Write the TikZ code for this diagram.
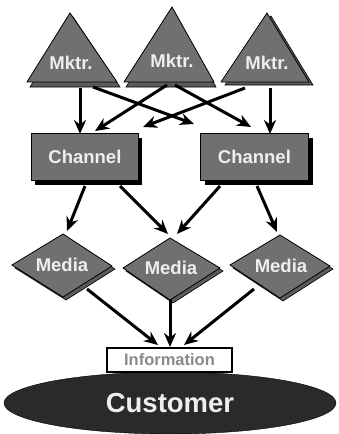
\documentclass[tikz,border=0pt]{standalone}
\usepackage{fontspec}
\setmainfont{Liberation Sans}
\usetikzlibrary{arrows.meta,shapes.geometric}
\definecolor{shapegray}{HTML}{707070}
\definecolor{shadowgray}{HTML}{5A5A5A}
\definecolor{darkcust}{HTML}{2A2A2A}
\definecolor{labelwhite}{HTML}{EEEEEE}
\definecolor{infogray}{HTML}{8A8A8A}
\begin{document}
\begin{tikzpicture}[x=1pt,y=-1pt,
  shapebox/.style={fill=shapegray,draw=black,line width=0.8pt},
  shadowbox/.style={fill=shadowgray,draw=black,line width=0.6pt},
  lbl/.style={text=labelwhite,font=\fontsize{18.5}{20}\selectfont\bfseries},
  conn/.style={line width=3pt,-{Stealth[length=14pt,width=12pt,inset=4.5pt]}}]
\useasboundingbox (0,0) rectangle (338,434);
\fill[white] (0,0) rectangle (338,434);

% Marketers (triangles)
\draw[shadowbox] (73,17) -- (30,87) -- (120,87) -- cycle;
\draw[shapebox] (70,13) -- (27,82) -- (117,82) -- cycle;
\draw[shadowbox] (174,11) -- (126,87) -- (216,87) -- cycle;
\draw[shapebox] (172,7) -- (124,82) -- (214,82) -- cycle;
\draw[shadowbox] (271,16) -- (225,85) -- (313,85) -- cycle;
\draw[shapebox] (267,13) -- (221,82) -- (309,82) -- cycle;
\node[lbl] (m1) at (71,63) {Mktr.};
\node[lbl] (m2) at (172,61) {Mktr.};
\node[lbl] (m3) at (267,63) {Mktr.};

% Channels
\fill[black] (35,138) rectangle (142,185);
\fill[black] (205,138) rectangle (313,185);
\node[shapebox,lbl,anchor=north west,minimum width=107pt,minimum height=47pt,inner sep=0pt] (c1) at (31,133) {Channel};
\node[shapebox,lbl,anchor=north west,minimum width=108pt,minimum height=47pt,inner sep=0pt] (c2) at (200,133) {Channel};

% Media (diamonds)
\draw[shadowbox] (66,237) -- (115,269) -- (66,300) -- (15,268) -- cycle;
\draw[shapebox] (63,234) -- (112,266) -- (63,297) -- (12,265) -- cycle;
\draw[shadowbox] (173,241) -- (223,271) -- (173,303) -- (126,271) -- cycle;
\draw[shapebox] (170,238) -- (220,268) -- (170,300) -- (123,268) -- cycle;
\draw[shadowbox] (283,238) -- (333,269) -- (283,301) -- (233,268) -- cycle;
\draw[shapebox] (280,235) -- (330,266) -- (280,298) -- (230,265) -- cycle;
\node[lbl] (d1) at (62,265) {Media};
\node[lbl] (d2) at (171,268) {Media};
\node[lbl] (d3) at (281,266) {Media};

% Customer and information
\node[ellipse,fill=darkcust,draw=black,minimum width=332pt,minimum height=62pt,inner sep=0pt,
      text=labelwhite,font=\fontsize{27.5}{30}\selectfont\bfseries] (cust) at (170,403) {Customer};
\node[draw=black,fill=white,line width=1.2pt,minimum width=125pt,minimum height=24pt,inner sep=0pt,
      text=infogray,font=\fontsize{16.5}{18}\selectfont\bfseries] (info) at (169.5,360) {Information};

% connector end points
\coordinate (m1a) at (80,88);   \coordinate (c1a) at (80,134);
\coordinate (m3a) at (270,88);  \coordinate (c2a) at (270,134);
\coordinate (m1b) at (93,87);   \coordinate (c2b) at (194,124);
\coordinate (m3b) at (245,88);  \coordinate (c1b) at (143,127);
\coordinate (m2a) at (167,85);  \coordinate (c1c) at (95,131);
\coordinate (m2b) at (175,85);  \coordinate (c2c) at (251,127);

\coordinate (c1d) at (85,186);  \coordinate (d1t) at (67,231);
\coordinate (c1e) at (120,186); \coordinate (d2t) at (168,234);
\coordinate (c2d) at (220,186); \coordinate (d2u) at (177,234);
\coordinate (c2e) at (257,186); \coordinate (d3t) at (277,232);

\coordinate (d1b) at (87,289);  \coordinate (i1) at (158,345);
\coordinate (d2b) at (170,299); \coordinate (i2) at (170,347);
\coordinate (d3b) at (254,289); \coordinate (i3) at (184,345);

\draw[conn] (m1a) -- (c1a);
\draw[conn] (m3a) -- (c2a);
\draw[conn] (m1b) -- (c2b);
\draw[conn] (m3b) -- (c1b);
\draw[conn] (m2a) -- (c1c);
\draw[conn] (m2b) -- (c2c);
\draw[conn] (c1d) -- (d1t);
\draw[conn] (c1e) -- (d2t);
\draw[conn] (c2d) -- (d2u);
\draw[conn] (c2e) -- (d3t);
\draw[conn] (d1b) -- (i1);
\draw[conn] (d2b) -- (i2);
\draw[conn] (d3b) -- (i3);
\end{tikzpicture}
\end{document}
